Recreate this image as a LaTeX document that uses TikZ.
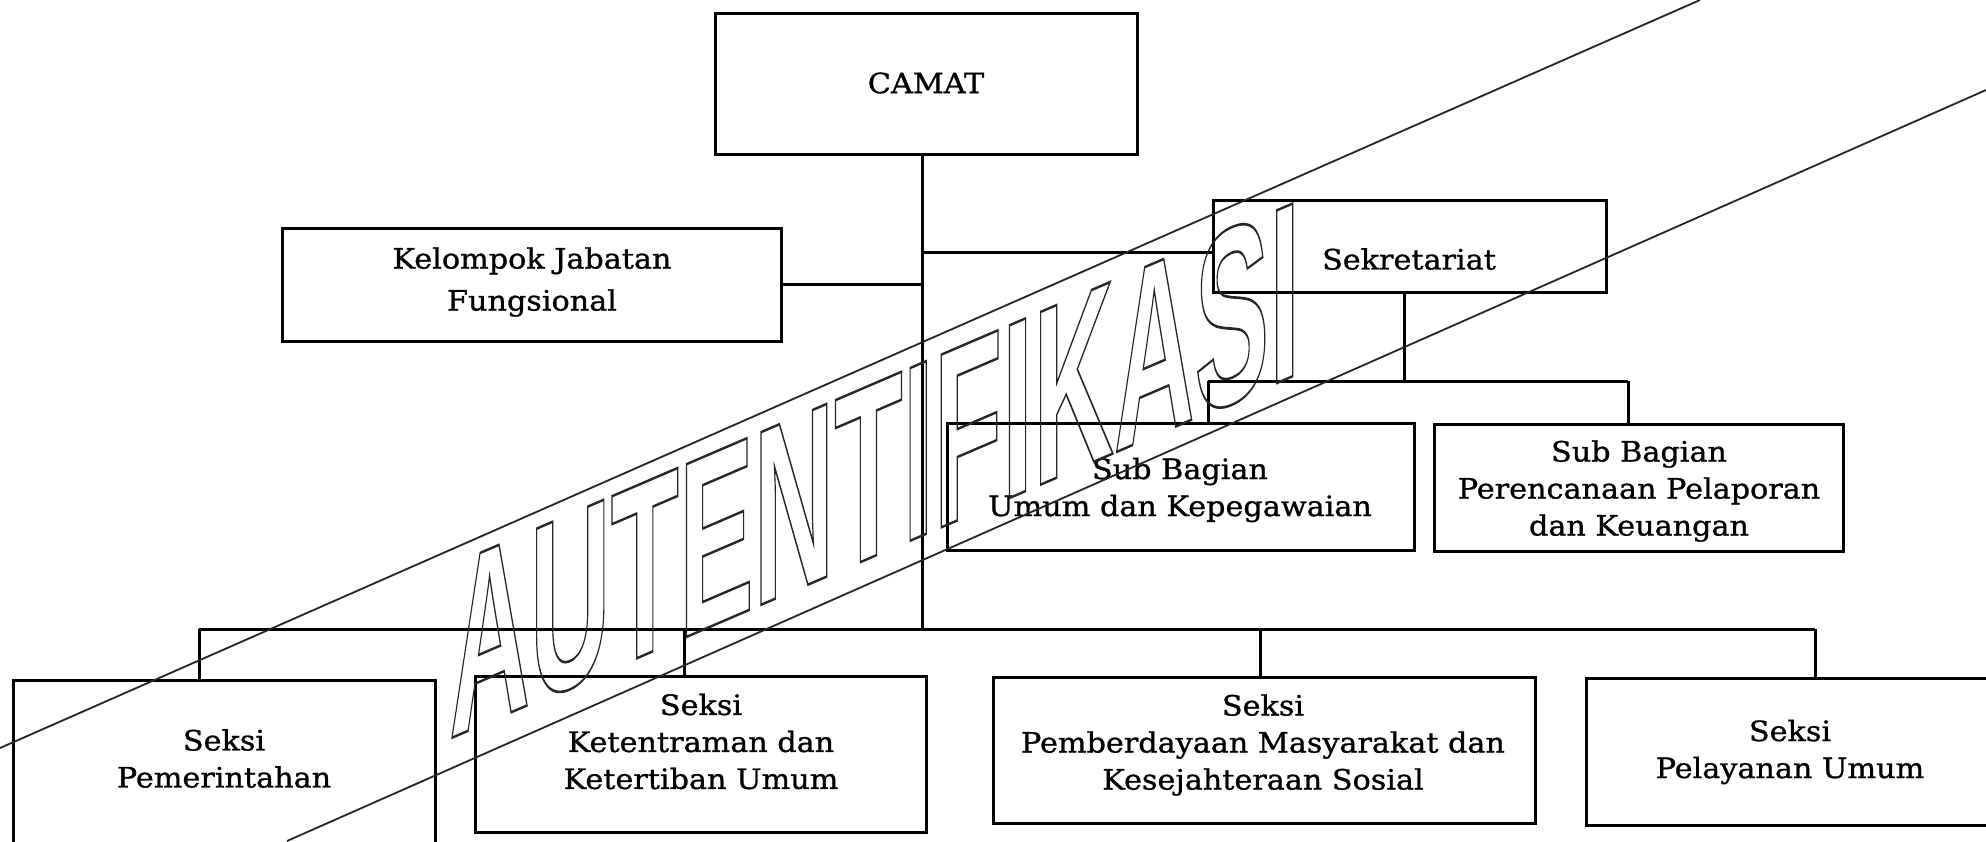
\documentclass[tikz,border=0pt]{standalone}
\usepackage{fontspec}
\setmainfont{DejaVu Serif}[FakeStretch=1.08,FakeBold=1]
\newfontfamily\wmfont{Liberation Sans}
\newcommand{\wmon}{\special{pdf:literal direct 1 Tr 2.6 w}}
\newcommand{\wmoff}{\special{pdf:literal direct 0 Tr}}
\begin{document}
\begin{tikzpicture}[x=1pt,y=-1pt,
  box/.style={draw, line width=3pt, inner sep=0pt},
  txt/.style={align=center, inner sep=0pt, font=\fontsize{28}{37}\selectfont},
  conn/.style={line width=3pt},
  wmline/.style={line width=1.8pt, black!85}]
\useasboundingbox[fill=white] (0,0) rectangle (1986,841);

% boxes
\node[box, minimum width=422pt, minimum height=141pt] (camat) at (926,83.5) {};
\node[box, minimum width=499pt, minimum height=113pt] (kjf) at (531.5,284.5) {};
\node[box, minimum width=393pt, minimum height=92pt] (sekr) at (1409.5,246) {};
\node[box, minimum width=467pt, minimum height=127pt] (subum) at (1180.5,486.5) {};
\node[box, minimum width=409pt, minimum height=127pt] (subper) at (1638.5,487.5) {};
\node[box, minimum width=422pt, minimum height=190pt] (pem) at (224,775) {};
\node[box, minimum width=451pt, minimum height=156pt] (ket) at (700.5,754) {};
\node[box, minimum width=542pt, minimum height=146pt] (pmb) at (1264,750) {};
\node[box, minimum width=414pt, minimum height=147pt] (pel) at (1793,751.5) {};

% texts
\node[txt] (camatT) at (926,83) {CAMAT};
\node[txt, font=\fontsize{28}{42}\selectfont] (kjfT) at (532,282) {Kelompok Jabatan\\Fungsional};
\node[txt] (sekrT) at (1409,259) {Sekretariat};
\node[txt] (subumT) at (1180,490) {Sub Bagian\\Umum dan Kepegawaian};
\node[txt] (subperT) at (1639,491) {Sub Bagian\\Perencanaan Pelaporan\\dan Keuangan};
\node[txt] (pemT) at (224,758.5) {Seksi\\Pemerintahan};
\node[txt] (ketT) at (701,741.5) {Seksi\\Ketentraman dan\\Ketertiban Umum};
\node[txt] (pmbT) at (1263,745) {Seksi\\Pemberdayaan Masyarakat dan\\Kesejahteraan Sosial};
\node[txt] (pelT) at (1790,752) {Seksi\\Pelayanan Umum};

% junction coordinates
\coordinate (busc) at (922,629);
\coordinate (sj) at (922,252);
\coordinate (sb) at (1404,381);
\coordinate (sl) at (1208,381);
\coordinate (sr) at (1628,381);
\coordinate (bl) at (199,629);
\coordinate (b2) at (684,629);
\coordinate (b3) at (1260,629);
\coordinate (br) at (1815,629);

% connectors
\draw[conn] (camat.south -| busc) -- (busc);
\draw[conn] (kjf.east) -- (kjf.east -| busc);
\draw[conn] (sj) -- (sj -| sekr.west);
\draw[conn] (sekr.south -| sb) -- (sb);
\draw[conn] (sl) -- (sr);
\draw[conn] (sl) -- (sl |- subum.north);
\draw[conn] (sr) -- (sr |- subper.north);
\draw[conn] (bl) -- (br);
\draw[conn] (bl) -- (bl |- pem.north);
\draw[conn] (b2) -- (b2 |- ket.north);
\draw[conn] (b3) -- (b3 |- pmb.north);
\draw[conn] (br) -- (br |- pel.north);

% watermark
\coordinate (la1) at (0,748);
\coordinate (la2) at (1700,0);
\coordinate (lb1) at (287,841);
\coordinate (lb2) at (1986,90);
\draw[wmline] (la1) -- (la2);
\draw[wmline] (lb1) -- (lb2);
\node[anchor=base west, yslant=0.43, inner sep=0pt, text=black!85] (wm) at (449,739)
  {\scalebox{0.4455}[1]{\wmfont\bfseries\fontsize{251}{251}\selectfont\wmon AUTENTIFIKASI\wmoff}};
\end{tikzpicture}
\end{document}
